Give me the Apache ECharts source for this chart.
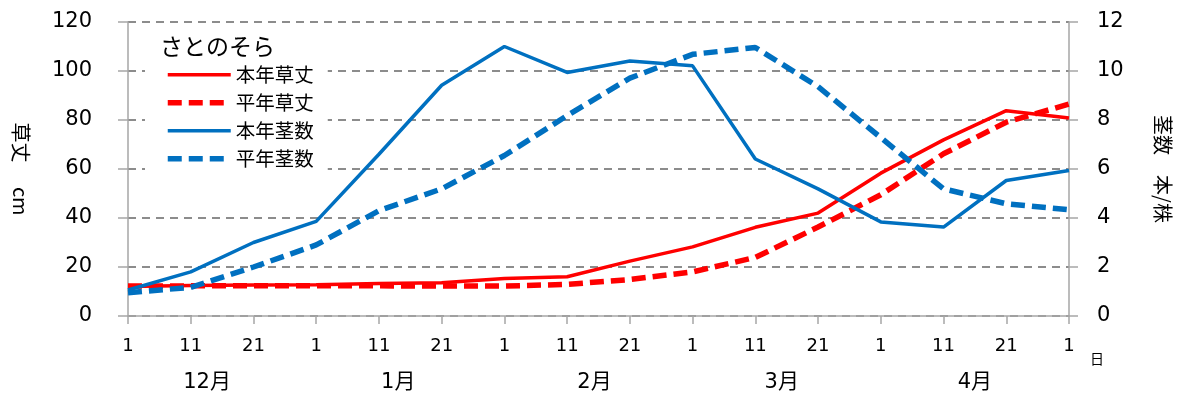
<!DOCTYPE html>
<html>
<head>
<meta charset="utf-8">
<script src="https://cdn.jsdelivr.net/npm/echarts@6/dist/echarts.min.js"></script>
<style>
  html, body { margin: 0; padding: 0; background: #fff; }
  #chart { width: 1181px; height: 401px; }
</style>
</head>
<body>
<div id="chart"></div>
<script>
// Day-of-month ticks (1, 11, 21 of each month, Dec through May 1)
const days = ['1','11','21','1','11','21','1','11','21','1','11','21','1','11','21','1'];
const months = ['12月','1月','2月','3月','4月'];
const leftTicks = [0, 20, 40, 60, 80, 100, 120];
const rightTicks = [0, 2, 4, 6, 8, 10, 12];

// Plant height (cm), left axis
const heightThisYear = [12.0, 12.4, 12.7, 12.8, 13.3, 13.6, 15.3, 16.0, 22.4, 28.2, 36.2, 42.0, 58.3, 71.9, 83.8, 80.8];
const heightNormal   = [12.2, 12.3, 12.3, 12.3, 12.3, 12.2, 12.2, 12.9, 14.9, 18.0, 23.9, 36.3, 49.5, 66.2, 79.1, 86.5];
// Stem count (stems / plant), right axis
const stemsThisYear  = [1.06, 1.80, 3.00, 3.86, 6.60, 9.42, 11.0, 9.94, 10.41, 10.21, 6.41, 5.19, 3.84, 3.63, 5.53, 5.94];
const stemsNormal    = [0.95, 1.17, 2.00, 2.90, 4.30, 5.19, 6.55, 8.18, 9.71, 10.68, 10.96, 9.36, 7.28, 5.19, 4.58, 4.34];

const JP = '"Noto Sans CJK JP", "Noto Sans", sans-serif';
const NUM = '"DejaVu Sans", "Noto Sans CJK JP", sans-serif';
const RED = '#FF0000';
const BLUE = '#0070C0';
const AXIS_GRAY = '#A6A6A6';

// Month group labels sit slightly left of the month centre; nudge each one.
const monthNudge = [30, 24, 8, 10, 0];

const chart = echarts.init(document.getElementById('chart'), null, { renderer: 'canvas' });

function lineSeries(name, data, color, dashed, yIndex) {
  return {
    name: name,
    type: 'line',
    yAxisIndex: yIndex,
    data: data,
    symbol: 'none',
    showSymbol: false,
    silent: true,
    lineStyle: dashed
      ? { color: color, width: 5.5, type: [14, 7], cap: 'butt' }
      : { color: color, width: 3.5, type: 'solid' },
    itemStyle: { color: color }
  };
}

chart.setOption({
  animation: false,
  backgroundColor: '#fff',
  textStyle: { fontFamily: JP },
  title: {
    text: 'さとのそら',
    left: 160,
    top: 35,
    padding: 0,
    z: 10,
    textStyle: { fontFamily: JP, fontSize: 23, fontWeight: 'normal', color: '#000' }
  },
  legend: {
    orient: 'vertical',
    left: 145,
    top: 30,
    padding: [35, 14, 6, 20],
    backgroundColor: '#fff',
    itemWidth: 63,
    itemHeight: 16,
    itemGap: 8.5,
    selectedMode: false,
    itemStyle: { opacity: 0 },
    lineStyle: { width: 'inherit' },
    textStyle: { fontFamily: JP, fontSize: 19.5, color: '#000', lineHeight: 16 },
    data: ['本年草丈', '平年草丈', '本年茎数', '平年茎数']
  },
  grid: { left: 128, right: 112, top: 22, bottom: 85 },
  xAxis: [
    {
      type: 'category',
      data: days,
      boundaryGap: false,
      axisLine: { lineStyle: { color: AXIS_GRAY, width: 1.5 } },
      axisTick: { show: true, interval: 0, length: 8, lineStyle: { color: AXIS_GRAY, width: 1.5 } },
      axisLabel: { interval: 0, margin: 21, fontSize: 18, color: '#000', fontFamily: NUM },
      splitLine: { show: false }
    },
    {
      type: 'category',
      data: months.map((m, i) => ({ value: m, textStyle: { padding: [0, monthNudge[i], 0, 0] } })),
      position: 'bottom',
      boundaryGap: true,
      axisLine: { show: false },
      axisTick: { show: false },
      axisLabel: { interval: 0, margin: 56, fontSize: 21, color: '#000', fontFamily: NUM },
      splitLine: { show: false }
    }
  ],
  yAxis: [
    {
      type: 'value',
      min: leftTicks[0],
      max: leftTicks[leftTicks.length - 1],
      interval: leftTicks[1] - leftTicks[0],
      name: '草丈　 cm',
      nameLocation: 'middle',
      nameRotate: -90,
      nameGap: 97,
      nameTextStyle: { fontFamily: JP, fontSize: 20, color: '#000' },
      axisLine: { show: true, lineStyle: { color: AXIS_GRAY, width: 1.5 } },
      axisTick: { show: true, length: 10, lineStyle: { color: AXIS_GRAY, width: 1.5 } },
      axisLabel: { margin: 36, fontSize: 21, color: '#000', fontFamily: NUM },
      splitLine: { show: true, lineStyle: { color: '#8C8C8C', width: 2, type: [8, 6] } }
    },
    {
      type: 'value',
      min: rightTicks[0],
      max: rightTicks[rightTicks.length - 1],
      interval: rightTicks[1] - rightTicks[0],
      position: 'right',
      name: '茎数　本/株',
      nameLocation: 'middle',
      nameRotate: -90,
      nameGap: 84,
      nameTextStyle: { fontFamily: JP, fontSize: 20, color: '#000' },
      axisLine: { show: true, lineStyle: { color: AXIS_GRAY, width: 1.5 } },
      axisTick: { show: true, length: 9, lineStyle: { color: AXIS_GRAY, width: 1.5 } },
      axisLabel: { margin: 28, fontSize: 21, color: '#000', fontFamily: NUM },
      splitLine: { show: false }
    }
  ],
  graphic: [
    {
      type: 'text',
      left: 1090,
      top: 352,
      style: { text: '日', fontFamily: JP, fontSize: 14, fill: '#000' }
    }
  ],
  series: [
    lineSeries('本年草丈', heightThisYear, RED, false, 0),
    lineSeries('平年草丈', heightNormal, RED, true, 0),
    lineSeries('本年茎数', stemsThisYear, BLUE, false, 1),
    lineSeries('平年茎数', stemsNormal, BLUE, true, 1)
  ]
});
</script>
</body>
</html>
